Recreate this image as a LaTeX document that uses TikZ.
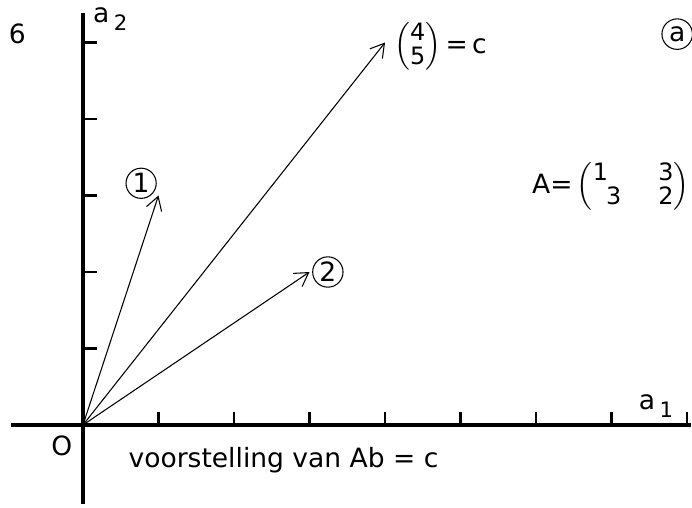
\documentclass[tikz,border=0pt]{standalone}
\usepackage{fontspec}
\setmainfont{DejaVu Sans}
\usepackage{tikz}
\usetikzlibrary{arrows.meta, positioning, calc}

\begin{document}
\begin{tikzpicture}[x=1cm, y=1.013cm,
		axis/.style={line width=1.2pt},
		vec/.style={thin, -{Straight Barb[length=5pt,width=6pt]}},
		num/.style={circle, draw, thin, inner sep=0.6pt, minimum size=10.5pt}]
	\useasboundingbox (-1.099,-1.085) rectangle (8.066,5.556);
	\coordinate (O) at (0,0);
	\coordinate (xl) at (-0.95,0);
	\coordinate (xr) at (8.05,0);
	\coordinate (yb) at (0,-1.03);
	\coordinate (yt) at (0,5.38);
	\draw[axis] (xl) -- (xr);
	\draw[axis] (yb) -- (yt);
	\foreach \i in {1,...,8}
		\draw[thick] (\i,0) -- (\i,0.17);
	\foreach \j in {1,...,5}
		\draw[thick] (0,\j) -- (0.19,\j);
	\coordinate (b1) at (1,3);
	\coordinate (b2) at (3,2);
	\coordinate (c) at (4,5);
	\draw[vec] (O) -- (b1);
	\draw[vec] (O) -- (b2);
	\draw[vec] (O) -- (c);
	\node[num] (n1) at (0.77,3.16) {1};
	\node[num, right=1pt of b2] (n2) {2};
	\node[num, minimum size=11.5pt] (tagA) at (7.87,5.11) {a};
	\node[anchor=west, inner sep=1pt] (cv) at ($(c)+(0.08,-0.06)$)
		{$\Big(\mbox{\small\renewcommand{\arraystretch}{0.8}\begin{tabular}{@{}c@{}}4\\5\end{tabular}}\Big)$\,=\,c};
	\node (six) at (-0.87,5.12) {6};
	\node (ax2) at (0.36,5.31) {a\,\raisebox{-3pt}{\footnotesize 2}};
	\node (ax1) at (7.59,0.25) {a\,\raisebox{-3pt}{\footnotesize 1}};
	\node (orig) at (-0.28,-0.27) {O};
	\node[anchor=base west] (cap) at (0.48,-0.55) {voorstelling van Ab = c};
	\node (matA) at (6.99,3.11)
		{A=\,$\Big(\mbox{\small\renewcommand{\arraystretch}{0.75}\begin{tabular}{@{}l@{\hspace{14pt}}l@{}}1&3\\\hspace{5pt}3&2\end{tabular}}\Big)$};
\end{tikzpicture}
\end{document}
